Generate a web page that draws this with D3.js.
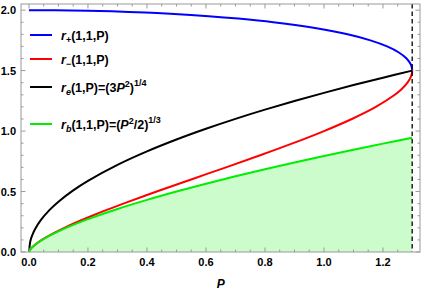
<!DOCTYPE html>
<html>
<head>
<meta charset="utf-8">
<script src="https://cdn.jsdelivr.net/npm/d3@7"></script>
<style>
  body { margin: 0; background: #fff; }
  text { font-family: "Liberation Sans", Arial, sans-serif; }
</style>
</head>
<body>
<div id="chart"></div>
<script>
// r_-(1,1,P) : P and r
const rMinusP = [0, 0.004, 0.0156, 0.0436, 0.079, 0.12, 0.1654, 0.2142, 0.266, 0.32, 0.433, 0.55, 0.6678, 0.7838, 0.8955, 1.0, 1.0945, 1.1758, 1.2401, 1.2646, 1.2831, 1.2949, 1.2984, 1.299];
const rMinusR = [0, 0.02, 0.05, 0.1, 0.15, 0.2, 0.25, 0.3, 0.35, 0.4, 0.5, 0.6, 0.7, 0.8, 0.9, 1.0, 1.1, 1.2, 1.3, 1.35, 1.4, 1.45, 1.48, 1.5];
// r_+(1,1,P) : blue curve
const rPlusP = [1.299, 1.2983, 1.2945, 1.28, 1.2539, 1.214, 1.1575, 1.08, 0.9746, 0.8282, 0.7094, 0.6089, 0.4789, 0.394, 0.2807, 0.1993, 0.0894, 0];
const rPlusR = [1.5, 1.52, 1.55, 1.6, 1.65, 1.7, 1.75, 1.8, 1.85, 1.9, 1.93, 1.95, 1.97, 1.98, 1.99, 1.995, 1.999, 2.0];
// r_e(1,P) : black curve
const rEP = [0, 0.005, 0.01, 0.02, 0.04, 0.07, 0.1, 0.15, 0.2, 0.3, 0.4, 0.5, 0.6, 0.7, 0.8, 0.9, 1.0, 1.1, 1.2, 1.299];
const rEVal = [0, 0.093, 0.1316, 0.1861, 0.2632, 0.3482, 0.4162, 0.5097, 0.5886, 0.7209, 0.8324, 0.9306, 1.0194, 1.1011, 1.1771, 1.2485, 1.3161, 1.3803, 1.4417, 1.5];
// r_b(1,1,P) : green curve (filled below)
const rBP = [0, 0.005, 0.01, 0.02, 0.04, 0.07, 0.1, 0.15, 0.2, 0.3, 0.4, 0.5, 0.6, 0.7, 0.8, 0.9, 1.0, 1.1, 1.2, 1.299];
const rBVal = [0, 0.0232, 0.0368, 0.0585, 0.0928, 0.1348, 0.171, 0.2241, 0.2714, 0.3557, 0.4309, 0.5, 0.5646, 0.6257, 0.684, 0.7399, 0.7937, 0.8458, 0.8963, 0.9449];
const pMax = 1.299;

const xTicks = [0, 0.2, 0.4, 0.6, 0.8, 1.0, 1.2];
const yTicks = [0, 0.5, 1.0, 1.5, 2.0];

const legendItems = [
  {color: '#0000ff', sub: '+', rest: '(1,1,P)'},
  {color: '#ff0000', sub: '\u2212', rest: '(1,1,P)'},
  {color: '#000000', sub: 'e', rest: '(1,P)=(3', P: true, sup1: '2', close: ')', sup2: '1/4'},
  {color: '#00ee00', sub: 'b', rest: '(1,1,P)=(', P: true, sup1: '2', close: '/2)', sup2: '1/3'}
];
const legendY = [35, 59, 87, 124];

var margin = {top: 4, right: 6, bottom: 41, left: 21},
    width = 426 - margin.left - margin.right,
    height = 293 - margin.top - margin.bottom;

const svg = d3.select('#chart')
    .append('svg')
    .attr('width', 426)
    .attr('height', 293)
    .append('g')
    .attr('transform', 'translate(' + margin.left + ',' + margin.top + ')');

const xScale = d3.scaleLinear().domain([-0.027, 1.3255]).range([0, width]);
const yScale = d3.scaleLinear().domain([0, 2.0508]).range([height, 0]);

const fillData = d3.zip(rBP, rBVal);
svg.append('path')
    .datum(fillData)
    .attr('fill', '#ccfccc')
    .attr('d', d3.area()
        .x(d => xScale(d[0]))
        .y0(yScale(0))
        .y1(d => yScale(d[1]))
        .curve(d3.curveCatmullRom.alpha(0.5)));

const line = d3.line()
    .x(d => xScale(d[0]))
    .y(d => yScale(d[1]))
    .curve(d3.curveCatmullRom.alpha(0.5));

const series = [
  {p: rPlusP, r: rPlusR, color: '#0000ff'},
  {p: rMinusP, r: rMinusR, color: '#ff0000'},
  {p: rEP, r: rEVal, color: '#000000'},
  {p: rBP, r: rBVal, color: '#00ee00'}
];
series.forEach(s => {
  svg.append('path')
      .datum(d3.zip(s.p, s.r))
      .attr('fill', 'none')
      .attr('stroke', s.color)
      .attr('stroke-width', 2)
      .attr('stroke-linejoin', 'round')
      .attr('d', line);
});

// dashed vertical at P max
svg.append('line')
    .attr('x1', xScale(pMax)).attr('x2', xScale(pMax))
    .attr('y1', 0).attr('y2', height)
    .attr('stroke', '#000')
    .attr('stroke-width', 1.3)
    .attr('stroke-dasharray', '4.5,3');

// frame
svg.append('rect')
    .attr('x', 0).attr('y', 0)
    .attr('width', width).attr('height', height)
    .attr('fill', 'none')
    .attr('stroke', '#9a9a9a')
    .attr('stroke-width', 1);

// ticks, all four sides, pointing in
const tickColor = '#9a9a9a';
const xMinor = d3.range(0, 1.3, 0.05).filter(v => Math.abs(v * 5 - Math.round(v * 5)) > 1e-6);
const yMinor = d3.range(0.1, 2.05, 0.1).filter(v => Math.abs(v * 2 - Math.round(v * 2)) > 1e-6);

function xTick(v, len) {
  svg.append('line').attr('x1', xScale(v)).attr('x2', xScale(v)).attr('y1', height).attr('y2', height - len).attr('stroke', tickColor);
  svg.append('line').attr('x1', xScale(v)).attr('x2', xScale(v)).attr('y1', 0).attr('y2', len).attr('stroke', tickColor);
}
function yTick(v, len) {
  svg.append('line').attr('x1', 0).attr('x2', len).attr('y1', yScale(v)).attr('y2', yScale(v)).attr('stroke', tickColor);
  svg.append('line').attr('x1', width).attr('x2', width - len).attr('y1', yScale(v)).attr('y2', yScale(v)).attr('stroke', tickColor);
}
xTicks.forEach(v => xTick(v, 4.5));
xMinor.forEach(v => xTick(v, 2.5));
yTicks.forEach(v => yTick(v, 4.5));
yMinor.forEach(v => yTick(v, 2.5));

svg.selectAll('.x-lab')
    .data(xTicks)
    .enter().append('text')
    .attr('class', 'x-lab')
    .attr('x', d => xScale(d))
    .attr('y', height + 14)
    .attr('text-anchor', 'middle')
    .attr('font-size', 11)
    .attr('font-weight', 'bold')
    .text(d => d3.format('.1f')(d));

svg.selectAll('.y-lab')
    .data(yTicks)
    .enter().append('text')
    .attr('class', 'y-lab')
    .attr('x', -5)
    .attr('y', d => yScale(d) + 4)
    .attr('text-anchor', 'end')
    .attr('font-size', 11)
    .attr('font-weight', 'bold')
    .text(d => d3.format('.1f')(d));

svg.append('text')
    .attr('x', xScale(0.65))
    .attr('y', height + 36)
    .attr('text-anchor', 'middle')
    .attr('font-size', 12)
    .attr('font-weight', 'bold')
    .attr('font-style', 'italic')
    .text('P');

// legend
const root = d3.select('#chart svg');
legendItems.forEach((it, i) => {
  const y = legendY[i];
  root.append('line')
      .attr('x1', 30).attr('x2', 52)
      .attr('y1', y).attr('y2', y)
      .attr('stroke', it.color)
      .attr('stroke-width', 2);
  const t = root.append('text')
      .attr('x', 61).attr('y', y + 4.5)
      .attr('font-size', 12.5)
      .attr('font-weight', 'bold');
  t.append('tspan').attr('font-style', 'italic').text('r');
  t.append('tspan').attr('font-size', 9).attr('dy', 3)
      .attr('font-style', it.sub === 'e' || it.sub === 'b' ? 'italic' : 'normal')
      .text(it.sub);
  t.append('tspan').attr('dy', -3).text(it.rest);
  if (it.P) {
    t.append('tspan').attr('font-style', 'italic').text('P');
    t.append('tspan').attr('font-size', 9).attr('dy', -5).text(it.sup1);
    t.append('tspan').attr('dy', 5).text(it.close);
    t.append('tspan').attr('font-size', 9).attr('dy', -6).text(it.sup2);
  }
});
</script>
</body>
</html>
